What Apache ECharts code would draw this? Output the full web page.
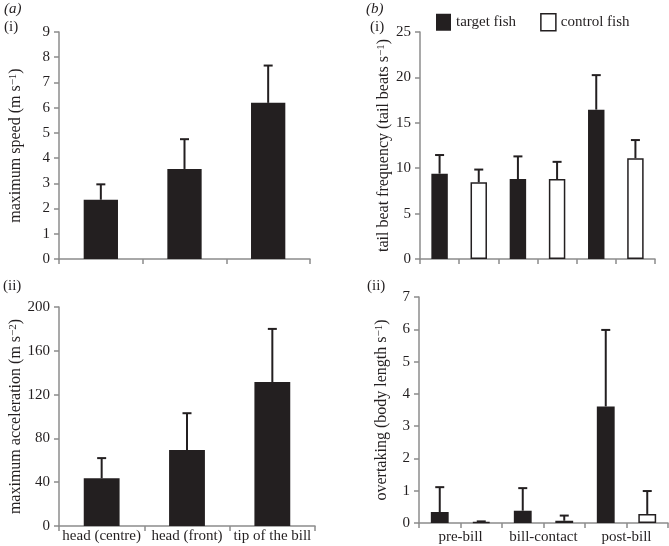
<!DOCTYPE html>
<html>
<head>
<meta charset="utf-8">
<script src="https://cdn.jsdelivr.net/npm/echarts@6/dist/echarts.min.js"></script>
<style>
html,body{margin:0;padding:0;background:#fff;}
#chart{width:669px;height:546px;}
</style>
</head>
<body>
<div id="chart"></div>
<script>
// ---- data ----
const locations = ['head (centre)', 'head (front)', 'tip of the bill'];
const speedMean = [2.35, 3.57, 6.19];
const speedErr = [0.61, 1.18, 1.48];
const accelMean = [43.5, 69.5, 131.5];
const accelErr = [18.5, 33.5, 48.5];

const phases = ['pre-bill', 'bill-contact', 'post-bill'];
const seriesNames = ['target fish', 'control fish'];
const tailTarget = [9.4, 8.8, 16.45];
const tailTargetErr = [2.05, 2.5, 3.8];
const tailControl = [8.45, 8.8, 11.1];
const tailControlErr = [1.4, 1.9, 2.0];
const overTarget = [0.34, 0.38, 3.61];
const overTargetErr = [0.77, 0.70, 2.37];
const overControl = [0.03, 0.07, 0.28];
const overControlErr = [0.02, 0.16, 0.71];

// ---- helpers ----
const INK = '#231f20';
const AXIS = '#8c8c8c';
const FONT = "'Liberation Serif','DejaVu Serif',serif";

function slotsData(target, control, which) {
  const out = [];
  for (let i = 0; i < target.length; i++) {
    out.push(which === 0 ? target[i] : null);
    out.push(which === 1 ? control[i] : null);
  }
  return out;
}
function slotErr(target, tErr, control, cErr) {
  const out = [];
  for (let i = 0; i < target.length; i++) {
    out.push([2 * i, target[i], tErr[i]]);
    out.push([2 * i + 1, control[i], cErr[i]]);
  }
  return out;
}
function simpleErr(mean, err) {
  return mean.map((m, i) => [i, m, err[i]]);
}
function errRender(params, api) {
  const x = api.value(0), v = api.value(1), e = api.value(2);
  const p0 = api.coord([x, v]);
  const p1 = api.coord([x, v + e]);
  const hw = 4.5;
  return {
    type: 'group',
    children: [
      {type: 'line', shape: {x1: p0[0], y1: p0[1], x2: p1[0], y2: p1[1]}, style: {stroke: INK, lineWidth: 2}},
      {type: 'line', shape: {x1: p1[0] - hw, y1: p1[1], x2: p1[0] + hw, y2: p1[1]}, style: {stroke: INK, lineWidth: 2}}
    ]
  };
}
const slots = ['s0', 's1', 's2', 's3', 's4', 's5'];

function xCat(grid, data, showLabels, margin) {
  return {
    type: 'category', gridIndex: grid, data: data, position: 'bottom',
    axisLine: {show: true, lineStyle: {color: AXIS, width: 1.5}},
    axisTick: {show: true, length: 5, lineStyle: {color: AXIS, width: 1.5}},
    axisLabel: {show: showLabels, color: INK, fontFamily: FONT, fontSize: 15, margin: margin || 6, interval: 0},
    splitLine: {show: false}
  };
}
const nameStyle = {
  color: INK, fontFamily: FONT, fontSize: 16,
  rich: {sup: {fontSize: 11, fontFamily: FONT, color: INK, verticalAlign: 'top', lineHeight: 10}}
};
function yVal(grid, max, interval, name, gap) {
  return {
    type: 'value', gridIndex: grid, min: 0, max: max, interval: interval, position: 'left',
    name: name, nameLocation: 'middle', nameGap: gap, nameTextStyle: nameStyle,
    axisLine: {show: true, lineStyle: {color: AXIS, width: 1.5}},
    axisTick: {show: true, length: 5, lineStyle: {color: AXIS, width: 1.5}},
    axisLabel: {color: INK, fontFamily: FONT, fontSize: 15, margin: 9},
    splitLine: {show: false}
  };
}

const chart = echarts.init(document.getElementById('chart'), null, {renderer: 'canvas'});
const option = {
  backgroundColor: '#fff',
  animation: false,
  textStyle: {fontFamily: FONT},
  legend: {
    left: 431, top: 8, itemWidth: 15, itemHeight: 17, itemGap: 24,
    textStyle: {color: INK, fontFamily: FONT, fontSize: 15},
    data: [
      {name: seriesNames[0], icon: 'rect', itemStyle: {color: INK}},
      {name: seriesNames[1], icon: 'rect', itemStyle: {color: '#fff', borderColor: INK, borderWidth: 1.5}}
    ]
  },
  grid: [
    {left: 59, top: 32, width: 251, height: 227},
    {left: 59, top: 307, width: 256, height: 219},
    {left: 420, top: 32, width: 235, height: 227},
    {left: 419, top: 297, width: 249, height: 226}
  ],
  xAxis: [
    xCat(0, locations, false),
    xCat(1, locations, true, 3),
    xCat(2, slots, false),
    xCat(3, slots, false),
    Object.assign(xCat(3, phases, true, 7), {axisLine: {show: false}, axisTick: {show: false}})
  ],
  yAxis: [
    yVal(0, 9, 1, 'maximum speed (m s{sup|−1})', 35),
    yVal(1, 200, 40, 'maximum acceleration (m s{sup|−2})', 32),
    yVal(2, 25, 5, 'tail beat frequency (tail beats s{sup|−1})', 27),
    yVal(3, 7, 1, 'overtaking (body length s{sup|−1})', 29)
  ],
  graphic: [
    {type: 'text', left: 4, top: 2, style: {text: '(a)', font: 'italic 15px ' + FONT, fill: INK}},
    {type: 'text', left: 4, top: 20, style: {text: '(i)', font: '15px ' + FONT, fill: INK}},
    {type: 'text', left: 3, top: 279, style: {text: '(ii)', font: '15px ' + FONT, fill: INK}},
    {type: 'text', left: 366, top: 2, style: {text: '(b)', font: 'italic 15px ' + FONT, fill: INK}},
    {type: 'text', left: 370, top: 20, style: {text: '(i)', font: '15px ' + FONT, fill: INK}},
    {type: 'text', left: 367, top: 279, style: {text: '(ii)', font: '15px ' + FONT, fill: INK}}
  ],
  series: [
    {type: 'bar', xAxisIndex: 0, yAxisIndex: 0, data: speedMean, barWidth: '41%', itemStyle: {color: INK}, silent: true},
    {type: 'custom', xAxisIndex: 0, yAxisIndex: 0, data: simpleErr(speedMean, speedErr), renderItem: errRender, silent: true},
    {type: 'bar', xAxisIndex: 1, yAxisIndex: 1, data: accelMean, barWidth: '42%', itemStyle: {color: INK}, silent: true},
    {type: 'custom', xAxisIndex: 1, yAxisIndex: 1, data: simpleErr(accelMean, accelErr), renderItem: errRender, silent: true},

    {name: seriesNames[0], type: 'bar', xAxisIndex: 2, yAxisIndex: 2, barWidth: '42%', barGap: '-100%',
     data: slotsData(tailTarget, tailControl, 0), itemStyle: {color: INK}},
    {name: seriesNames[1], type: 'bar', xAxisIndex: 2, yAxisIndex: 2, barWidth: '42%', barGap: '-100%',
     data: slotsData(tailTarget, tailControl, 1), itemStyle: {color: '#fff', borderColor: INK, borderWidth: 1.5}},
    {type: 'custom', xAxisIndex: 2, yAxisIndex: 2, data: slotErr(tailTarget, tailTargetErr, tailControl, tailControlErr), renderItem: errRender, silent: true},

    {name: seriesNames[0], type: 'bar', xAxisIndex: 3, yAxisIndex: 3, barWidth: '43%', barGap: '-100%',
     data: slotsData(overTarget, overControl, 0), itemStyle: {color: INK}},
    {name: seriesNames[1], type: 'bar', xAxisIndex: 3, yAxisIndex: 3, barWidth: '43%', barGap: '-100%',
     data: slotsData(overTarget, overControl, 1), itemStyle: {color: '#fff', borderColor: INK, borderWidth: 1.5}},
    {type: 'custom', xAxisIndex: 3, yAxisIndex: 3, data: slotErr(overTarget, overTargetErr, overControl, overControlErr), renderItem: errRender, silent: true}
  ]
};
chart.setOption(option);
</script>
</body>
</html>
